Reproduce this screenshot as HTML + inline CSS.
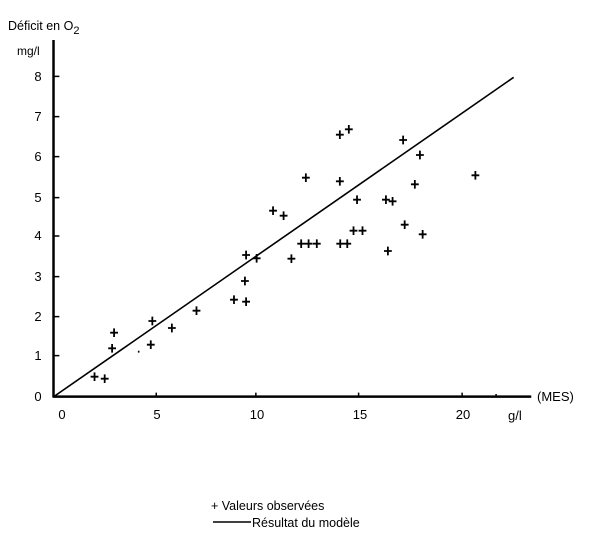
<!DOCTYPE html>
<html><head><meta charset="utf-8"><style>
body{margin:0;background:#fff;}
svg{display:block;font-family:"Liberation Sans",sans-serif;}
</style></head><body>
<svg width="610" height="546" viewBox="0 0 610 546" xmlns="http://www.w3.org/2000/svg">
<g transform="scale(0.390625,0.33333)" stroke="#000" fill="none">
<path d="M137 120V1192M135 1190H1360" stroke-width="2.5" vector-effect="non-scaling-stroke"/>
<path d="M137 229h15M137 350h15M137 470h15M137 593h15M137 708h15M137 830h15M137 950h15M137 1067h15M400 1190v-12M655 1190v-12M918 1190v-12M1183 1190v-12M1270 1190v-8" stroke-width="1.5" vector-effect="non-scaling-stroke"/>
<path d="M140 1188L1315 232" stroke-width="1.6" vector-effect="non-scaling-stroke"/>
<path stroke-width="1.8" vector-effect="non-scaling-stroke" d="
M232 1130h20M242 1117v26 M258 1136h20M268 1123v26 M277 1045h20M287 1032v26 M282 998h20M292 985v26
M376 1034h20M386 1021v26 M380 963h20M390 950v26 M430 984h20M440 971v26 M493 932h20M503 919v26
M589 899h20M599 886v26 M620 905h20M630 892v26 M617 843h20M627 830v26 M620 765h20M630 752v26
M647 775h20M657 762v26 M689 632h20M699 619v26 M716 647h20M726 634v26 M736 776h20M746 763v26
M773 533h20M783 520v26 M761 731h20M771 718v26 M780 731h20M790 718v26 M801 731h20M811 718v26
M860 544h20M870 531v26 M860 404h20M870 391v26 M883 388h20M893 375v26 M861 731h20M871 718v26
M879 731h20M889 718v26 M895 692h20M905 679v26 M904 599h20M914 586v26 M918 692h20M928 679v26
M978 599h20M988 586v26 M995 604h20M1005 591v26 M983 753h20M993 740v26 M1022 420h20M1032 407v26
M1026 674h20M1036 661v26 M1052 553h20M1062 540v26 M1065 465h20M1075 452v26 M1072 703h20M1082 690v26
M1207 526h20M1217 513v26 M353 1055h4"/>
</g>
<g font-size="13" fill="#000">
<text x="8" y="30" font-size="12.5">Déficit en O<tspan font-size="11" dy="4">2</tspan></text>
<text x="17" y="55" font-size="12">mg/l</text>
<g text-anchor="middle">
<text x="38" y="81">8</text><text x="38" y="121">7</text><text x="38" y="161">6</text><text x="38" y="202">5</text>
<text x="38" y="240">4</text><text x="38" y="281">3</text><text x="38" y="321">2</text><text x="38" y="360">1</text><text x="38" y="401">0</text>
<text x="62" y="419">0</text><text x="157" y="419">5</text><text x="257" y="419">10</text><text x="360" y="419">15</text><text x="463" y="419">20</text>
</g>
<text x="537" y="401">(MES)</text>
<text x="508" y="420">g/l</text>
<text x="211" y="510" font-size="12.5">+ Valeurs observées</text>
<line x1="213" y1="522" x2="251" y2="522" stroke="#000" stroke-width="1.5"/>
<text x="252" y="527" font-size="12.5">Résultat du modèle</text>
</g>
</svg>
</body></html>
